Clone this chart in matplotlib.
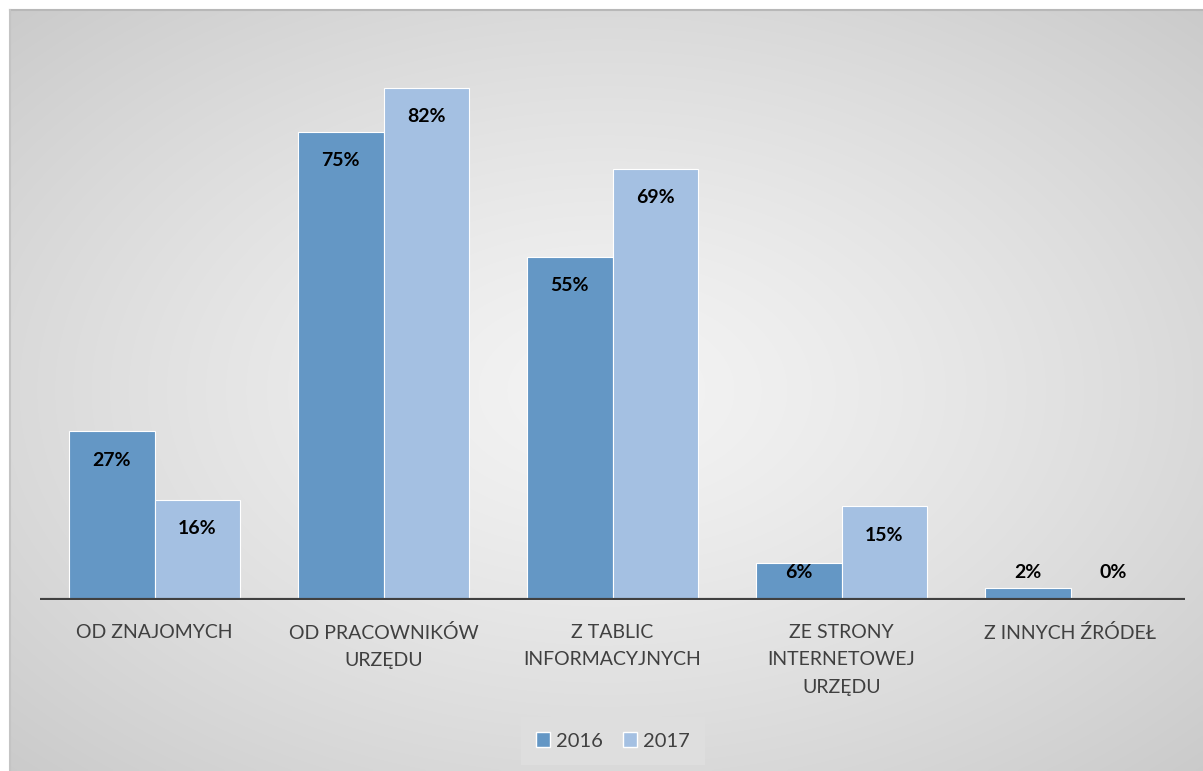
import numpy as np
import matplotlib
matplotlib.use('Agg')
import matplotlib.pyplot as plt
from matplotlib.patches import Patch

plt.rcParams['font.family'] = ['Lato', 'DejaVu Sans']

# data
categories = ['OD ZNAJOMYCH', 'OD PRACOWNIKÓW\nURZĘDU', 'Z TABLIC\nINFORMACYJNYCH',
              'ZE STRONY\nINTERNETOWEJ\nURZĘDU', 'Z INNYCH ŹRÓDEŁ']
years = ['2016', '2017']
values_2016 = [27, 75, 55, 6, 2]
values_2017 = [16, 82, 69, 15, 0]

W, H = 1203, 771
fig = plt.figure(figsize=(W / 100, H / 100), dpi=100)
fig.patch.set_facecolor('white')

# radial gradient background of the chart area
bg = fig.add_axes([10 / W, 0, 1 - 10 / W, 1 - 10 / H])
yy, xx = np.mgrid[-1:1:300j, -1:1:500j]
r = np.sqrt(xx ** 2 + yy ** 2) / np.sqrt(2)
shade = 0.955 - 0.16 * r ** 1.3
bg.imshow(np.dstack([shade] * 3), aspect='auto', extent=[0, 1, 0, 1], interpolation='bilinear')
bg.set_xlim(0, 1)
bg.set_ylim(0, 1)
bg.axis('off')
fig.add_artist(plt.Line2D([10 / W, 1], [1 - 10 / H, 1 - 10 / H], color='#b8b8b8', lw=1.5))
fig.add_artist(plt.Line2D([10 / W, 10 / W], [0, 1 - 10 / H], color='#c4c4c4', lw=1.5))

ax = fig.add_axes([40 / W, (H - 600) / H, 1145 / W, 562 / H])
ax.patch.set_alpha(0)
x = np.arange(len(categories))
bw = 0.375
c16, c17 = '#6497c5', '#a4c0e2'
ax.bar(x - bw / 2, values_2016, bw, color=c16, edgecolor='white', linewidth=0.8, zorder=2)
ax.bar(x + bw / 2, values_2017, bw, color=c17, edgecolor='white', linewidth=0.8, zorder=2)

for xs, vals in ((x - bw / 2, values_2016), (x + bw / 2, values_2017)):
    for xi, v in zip(xs, vals):
        ax.text(xi, max(v - 4.6, 4.35), f'{v}%', ha='center', va='center',
                fontsize=14, fontweight='bold', color='black', zorder=3)

ax.set_xlim(-0.5, len(categories) - 0.5)
ax.set_ylim(0, 90)
ax.axhline(0, color='#404040', lw=3, zorder=4)
for s in ax.spines.values():
    s.set_visible(False)
ax.set_yticks([])
ax.set_xticks(x)
ax.set_xticklabels(categories, fontsize=14, color='#404040', linespacing=1.75)
ax.tick_params(axis='x', length=0, pad=17)

handles = [Patch(facecolor=c16, edgecolor='white', label=years[0]),
           Patch(facecolor=c17, edgecolor='white', label=years[1])]
leg = fig.legend(handles=handles, loc='center', bbox_to_anchor=(613 / W, (H - 741) / H),
                 ncol=2, fontsize=14.5, frameon=True, facecolor='#dedede', edgecolor='none',
                 framealpha=1, fancybox=False, handlelength=0.7, handleheight=0.7,
                 handletextpad=0.3, columnspacing=1.0, borderpad=0.75)
for t in leg.get_texts():
    t.set_color('#404040')

fig.savefig('out.png', dpi=100)
